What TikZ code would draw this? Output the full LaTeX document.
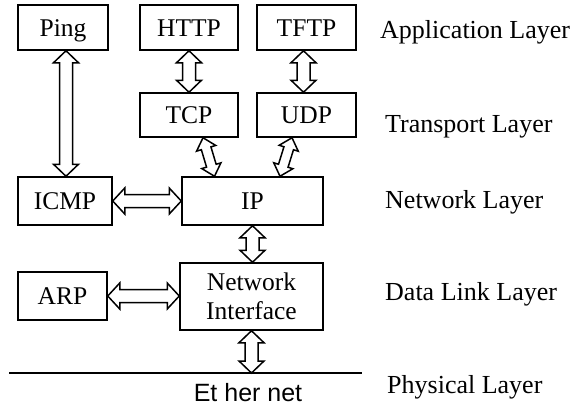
\documentclass[tikz,border=0pt]{standalone}
\usepackage{fontspec}
\setmainfont{Liberation Serif}
\newfontfamily\ethfont{Liberation Sans}
\usetikzlibrary{calc}
\tikzset{
  box/.style={draw, line width=1.5pt, inner sep=0pt, font=\fontsize{25.5}{29}\selectfont, align=center, text height=17pt, text depth=0pt},
  layer/.style={anchor=base west, inner sep=0pt, font=\fontsize{26}{30}\selectfont},
  arr/.style={draw, line width=1.5pt, line join=miter},
}
% #1 start, #2 end, #3 head length, #4 head half width, #5 shaft half width
\newcommand\dblarrow[5]{%
  \path (#1) coordinate (da) (#2) coordinate (db);
  \path ($(da)!#3!(db)$) coordinate (ha) ($(db)!#3!(da)$) coordinate (hb);
  \draw[arr] (da) -- ($(ha)!#4!90:(db)$) -- ($(ha)!#5!90:(db)$)
     -- ($(hb)!#5!-90:(da)$) -- ($(hb)!#4!-90:(da)$) -- (db)
     -- ($(hb)!#4!90:(da)$) -- ($(hb)!#5!90:(da)$)
     -- ($(ha)!#5!-90:(db)$) -- ($(ha)!#4!-90:(db)$) -- cycle;
}
\begin{document}
\begin{tikzpicture}[x=1pt,y=-1pt]
\useasboundingbox (0,0) rectangle (584,408);
% boxes
\node[box, minimum width=90pt, minimum height=45pt] (ping) at (63,27.5) {Ping};
\node[box, minimum width=98pt, minimum height=45pt] (http) at (189,27.5) {HTTP};
\node[box, minimum width=99pt, minimum height=45pt] (tftp) at (306.5,27.5) {TFTP};
\node[box, minimum width=98pt, minimum height=44pt] (tcp) at (189,115) {TCP};
\node[box, minimum width=99pt, minimum height=44pt] (udp) at (306.5,115) {UDP};
\node[box, minimum width=94pt, minimum height=48pt] (icmp) at (65,201) {ICMP};
\node[box, minimum width=141pt, minimum height=48pt] (ip) at (252.5,201) {IP};
\node[box, minimum width=89pt, minimum height=48pt] (arp) at (62.5,296) {ARP};
\node[box, minimum width=143pt, minimum height=67pt, text height=46pt, text depth=0pt] (ni) at (251.5,296.5) {Network\\Interface};
% ethernet line
\coordinate (eth1) at (9,373);
\coordinate (eth2) at (362,373);
\draw[line width=1.5pt] (eth1) -- (eth2);
\node[inner sep=0pt, font=\ethfont\fontsize{25}{28}\selectfont] (ethtext) at (248,393) {Et her net};
% layer labels
\node[layer] (lapp) at (380,38) {Application Layer};
\node[layer] (ltr) at (385,132) {Transport Layer};
\node[layer] (lnet) at (385,208) {Network Layer};
\node[layer] (ldl) at (385,300) {Data Link Layer};
\node[layer] (lph) at (387,393) {Physical Layer};
% arrows
\coordinate (p1) at ($(ping.south)+(3,0)$);
\coordinate (p2) at (p1 |- icmp.north);
\dblarrow{p1}{p2}{12pt}{12.5pt}{6.5pt}
\dblarrow{http.south}{tcp.north}{12pt}{12.5pt}{6.5pt}
\coordinate (t1) at ($(tftp.south)+(-3,0)$);
\coordinate (t2) at (t1 |- udp.north);
\dblarrow{t1}{t2}{12pt}{12.5pt}{6.5pt}
\coordinate (c1) at ($(tcp.south)+(14,0)$);
\coordinate (c2) at ($(ip.north)+(-38,0)$);
\dblarrow{c1}{c2}{11pt}{10pt}{5pt}
\coordinate (u1) at ($(udp.south)+(-14.5,0)$);
\coordinate (u2) at ($(ip.north)+(27.5,0)$);
\dblarrow{u1}{u2}{11pt}{10pt}{5pt}
\dblarrow{icmp.east}{ip.west}{12pt}{13pt}{6.5pt}
\coordinate (n1) at (ni.north -| ip.south);
\dblarrow{ip.south}{n1}{12pt}{12.5pt}{6.5pt}
\coordinate (a1) at (arp.east -| ni.west);
\dblarrow{arp.east}{a1}{12pt}{13pt}{6.5pt}
\coordinate (e1) at (ni.south |- eth1);
\dblarrow{ni.south}{e1}{12pt}{12.5pt}{6.5pt}
\end{tikzpicture}
\end{document}
